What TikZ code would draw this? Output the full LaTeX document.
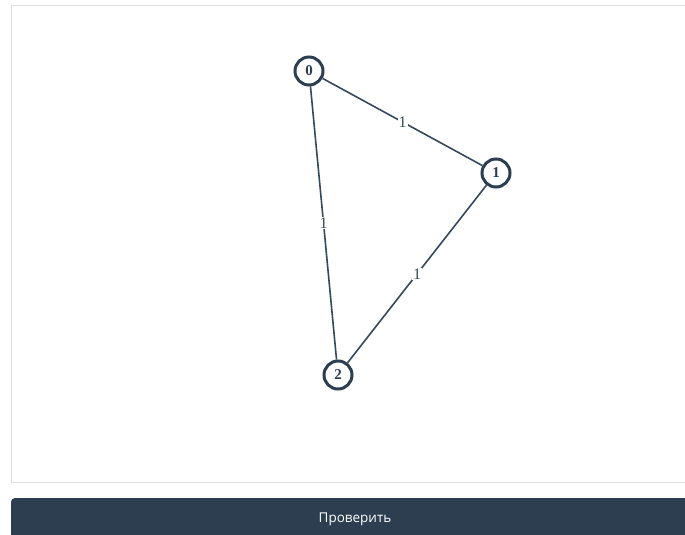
\documentclass[tikz,border=0pt]{standalone}
\usepackage{fontspec}
\setmainfont{Liberation Serif}
\newfontfamily\btnfont{Open Sans}
\definecolor{nodeborder}{HTML}{2C3E50}
\definecolor{edgecol}{HTML}{34495E}
\definecolor{btncol}{HTML}{2C3E50}
\definecolor{framecol}{HTML}{DDDDDD}
\tikzset{
  vert/.style={circle, draw=nodeborder, line width=3pt, fill=white, minimum size=28pt, inner sep=0pt, font=\fontsize{15}{15}\selectfont\bfseries, text=nodeborder},
  edge/.style={draw=edgecol, line width=1.6pt},
  elabel/.style={fill=white, inner sep=1pt, font=\fontsize{16}{16}\selectfont, text=edgecol}
}
\begin{document}
\begin{tikzpicture}[x=1pt,y=-1pt]
\useasboundingbox (0,0) rectangle (685,535);
\fill[white] (0,0) rectangle (685,535);
\draw[framecol, line width=1.2pt] (700,5.5) -- (11.5,5.5) -- (11.5,482.5) -- (700,482.5);
\fill[btncol, rounded corners=4pt] (11,498) rectangle (700,545);
\node[text=white, font=\btnfont\fontsize{13.5}{13.5}\selectfont] (btn) at (355,519) {Проверить};
\node[vert] (n0) at (309,71) {0};
\node[vert] (n1) at (496,173) {1};
\node[vert] (n2) at (338,375) {2};
\path (n0) edge[edge] node[elabel, pos=0.5] (l01) {1} (n1);
\path (n0) edge[edge] node[elabel, pos=0.5] (l02) {1} (n2);
\path (n1) edge[edge] node[elabel, pos=0.5] (l12) {1} (n2);
\end{tikzpicture}
\end{document}
